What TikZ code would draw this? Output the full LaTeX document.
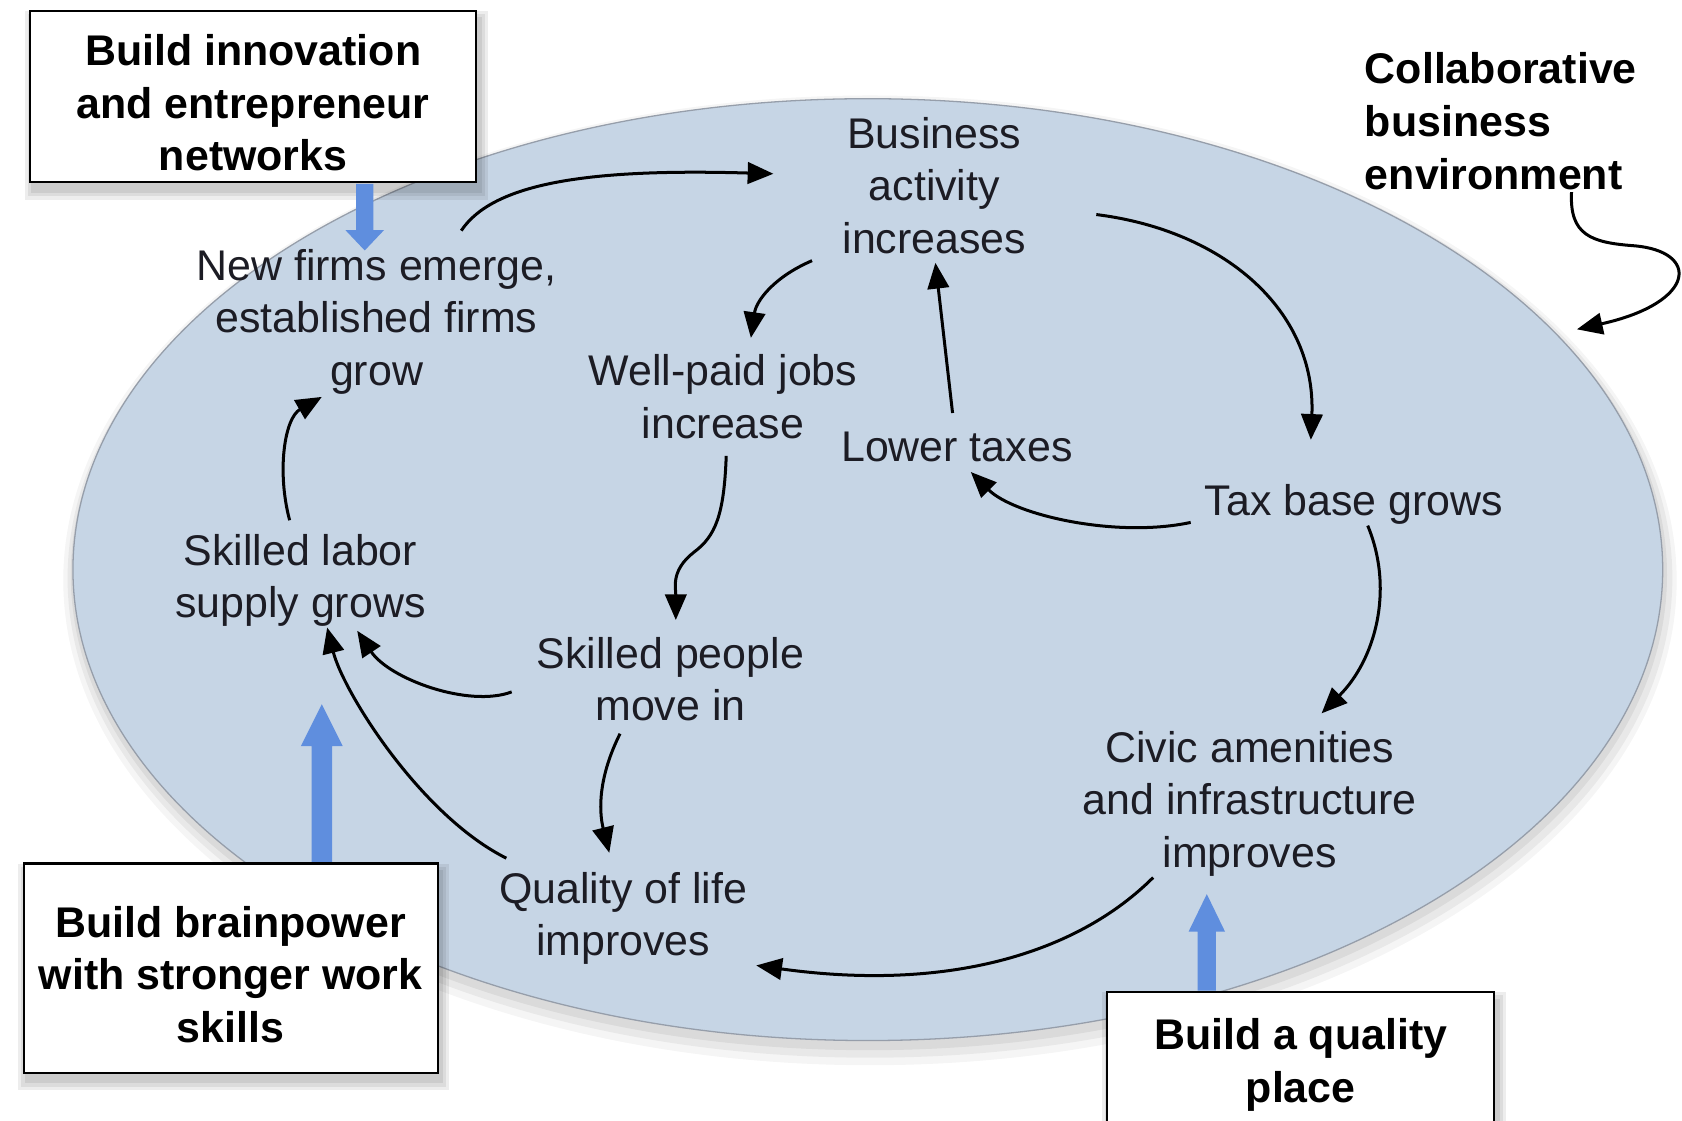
\documentclass[tikz,border=0pt]{standalone}
\usepackage{fontspec}
\setmainfont{Liberation Sans}
\usetikzlibrary{arrows.meta,calc}
\definecolor{ellfill}{RGB}{198,213,229}
\definecolor{elledge}{RGB}{150,158,170}
\definecolor{bluearr}{RGB}{95,142,222}
\definecolor{txt}{RGB}{28,28,36}
\tikzset{
  lbl/.style={align=center,text=txt,inner sep=0pt,font=\fontsize{20}{24.5}\selectfont},
  policy/.style={draw=black,line width=1pt,fill=white,inner sep=0pt},
  policytext/.style={align=center,inner sep=0pt,font=\bfseries\fontsize{20}{24.5}\selectfont},
  arr/.style={line width=1.4pt,draw=black,-{Triangle[length=12pt,width=10pt]}},
  blk/.style={fill=bluearr},
  shd/.style={fill=black,opacity=0.07}
}
\begin{document}
\begin{tikzpicture}[x=0.5pt,y=-0.5pt]
\useasboundingbox (0,0) rectangle (1568,1045);
\fill[white] (0,0) rectangle (1568,1045);
% ellipse shadow
\fill[black,opacity=0.04] (811,541) ellipse [x radius=752,y radius=452];
\fill[black,opacity=0.05] (811,539) ellipse [x radius=748,y radius=447];
\fill[black,opacity=0.06] (810,536) ellipse [x radius=744,y radius=443];
% ellipse
\filldraw[fill=ellfill,draw=elledge,line width=0.6pt] (809,531) ellipse [x radius=741,y radius=439];
\coordinate (envpt) at (1470,307);

% text nodes
\node[lbl] (biz) at (871,173) {Business\\activity\\increases};
\node[lbl] (nf)  at (351,300) {New firms emerge,\\established firms\\grow};
\node[lbl] (wp)  at (674,370) {Well-paid jobs\\increase};
\node[lbl] (lt)  at (892,417) {Lower taxes};
\node[lbl] (tb)  at (1262,470) {Tax base grows};
\node[lbl] (sl)  at (280,541) {Skilled labor\\supply grows};
\node[lbl] (sp)  at (625,633) {Skilled people\\move in};
\node[lbl] (civ) at (1165,749) {Civic amenities\\and infrastructure\\improves};
\node[lbl] (ql)  at (581,856) {Quality of life\\improves};
\node[anchor=west,align=left,inner sep=0pt,font=\bfseries\fontsize{20}{24.5}\selectfont] (collab) at (1272,113) {Collaborative\\business\\environment};

% box shadows
\foreach \r in {2,5,8}{
  \fill[shd] (28-\r+3,10-\r+8) rectangle (444+\r+3,170+\r+8);
  \fill[shd] (22-\r+3,805-\r+8) rectangle (408+\r+3,1000+\r+8);
  \fill[shd] (1032-\r+3,925-\r+8) rectangle (1393+\r+3,1080+\r+8);
}
% policy boxes
\node[policy,minimum width=208pt,minimum height=80pt] (bA) at (236,90) {};
\node[policytext] (tA) at ($(bA)+(0,6)$) {Build innovation\\and entrepreneur\\networks};
\node[policy,minimum width=193pt,minimum height=97.5pt] (bB) at (215,902.5) {};
\node[policytext] (tB) at ($(bB)+(0,6)$) {Build brainpower\\with stronger work\\skills};
\node[policy,minimum width=180.5pt,minimum height=67.5pt] (bC) at (1212.5,992.5) {};
\node[policytext] (tC) at ($(bC)+(0,0)$) {Build a quality\\place};

% blue block arrows
\coordinate (ba) at ($(bA.south)+(104,0.5)$);
\fill[blk] (ba) ++(-8,0) -- ++(0,43) -- ++(-10,0) -- ++(18,19) -- ++(18,-19) -- ++(-10,0) -- ++(0,-43) -- cycle;
\coordinate (bb) at ($(bB.north)+(85,-0.5)$);
\fill[blk] (bb) ++(-9.5,0) -- ++(0,-108) -- ++(-10,0) -- ++(19.5,-39) -- ++(19.5,39) -- ++(-10,0) -- ++(0,108) -- cycle;
\coordinate (bc) at ($(bC.north)+(-87.5,-0.5)$);
\fill[blk] (bc) ++(-8.5,0) -- ++(0,-55) -- ++(-8.5,0) -- ++(17,-35) -- ++(17,35) -- ++(-8.5,0) -- ++(0,55) -- cycle;

% causal arrows
\draw[arr] ($(nf)+(79,-85)$) .. controls +(30,-45) and +(-170,-5) .. ($(biz)+(-150,-11)$);
\draw[arr] ($(biz)+(151,27)$) .. controls +(120,15) and +(5,-120) .. ($(tb)+(-40,-60)$);
\draw[arr] ($(tb)+(-152,17)$) .. controls +(-70,15) and +(40,40) .. ($(lt)+(13,23)$);
\draw[arr] ($(lt)+(-4,-32)$) -- ($(biz)+(1,72)$);
\draw[arr] ($(biz)+(-114,70)$) .. controls +(-35,15) and +(5,-35) .. ($(wp)+(26,-55)$);
\draw[arr] ($(wp)+(3,55)$) .. controls +(-2,55) and +(20,-15) .. ($(wp)!0.55!(sp)$) .. controls +(-22,17) and +(0,-30) .. ($(sp)+(5,-55)$);
\draw[arr] ($(tb)+(13,20)$) .. controls +(25,60) and +(50,-50) .. ($(civ)+(67,-84)$);
\draw[arr] ($(civ)+(-90,69)$) .. controls +(-70,70) and +(180,25) .. ($(ql)+(124,44)$);
\draw[arr] ($(sp)+(-148,12)$) .. controls +(-40,15) and +(30,45) .. ($(sl)+(53,47)$);
\draw[arr] ($(ql)+(-109,-56)$) .. controls +(-80,-40) and +(15,60) .. ($(sl)+(25,44)$);
\draw[arr] ($(sp)+(-47,51)$) .. controls +(-20,40) and +(-10,-40) .. ($(ql)+(-13,-61)$);
\draw[arr] ($(sl)+(-10,-56)$) .. controls +(-12,-45) and +(-35,20) .. ($(nf)+(-51,70)$);
\draw[arr] ($(collab.south west)+(193,2)$) .. controls +(-2,40) and +(-40,-3) .. ++(58,50) .. controls +(62,5) and +(112,-25) .. (envpt);
\end{tikzpicture}
\end{document}
